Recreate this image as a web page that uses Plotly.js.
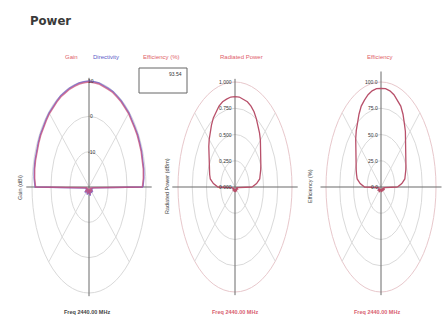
<!DOCTYPE html>
<html>
<head>
<meta charset="utf-8">
<script src="https://cdn.plot.ly/plotly-3.0.1.min.js"></script>
<style>
  html, body { margin: 0; padding: 0; background: #ffffff; }
  #chart { width: 445px; height: 325px; }
</style>
</head>
<body>
<div id="chart"></div>
<script>
// Pattern cut angles (degrees), 5 degree steps
const angles = [0,5,10,15,20,25,30,35,40,45,50,55,60,65,70,75,80,85,90,95,100,105,110,115,120,125,130,135,140,145,150,155,160,165,170,175,180,
  185,190,195,200,205,210,215,220,225,230,235,240,245,250,255,260,265,270,275,280,285,290,295,300,305,310,315,320,325,330,335,340,345,350,355];

// Gain (dBi)
const gainDb = [8.1,8.7,9.0,9.1,9.2,9.2,9.3,9.2,9.3,9.4,9.3,9.4,9.4,9.5,9.4,9.5,9.6,9.6,9.7,9.6,9.6,9.5,9.5,9.4,9.5,9.4,9.3,9.4,9.3,9.2,9.3,9.2,9.1,9.1,9.0,8.7,8.1,
  -17.8,-18.6,-19.1,-18.4,-19.3,-18.9,-17.6,-18.8,-19.4,-18.2,-19.0,-18.7,-17.9,-19.2,-18.5,-18.9,-19.5,-18.3,-19.1,-18.6,-17.7,-19.0,-18.4,-19.3,-18.8,-18.1,-19.2,-18.6,-17.9,-18.9,-19.4,-18.3,-18.8,-18.5,-17.6];

// Directivity (dBi)
const directivityDb = [8.4,9.0,9.3,9.4,9.5,9.5,9.6,9.5,9.6,9.7,9.6,9.7,9.7,9.8,9.7,9.8,9.9,9.9,10.0,9.9,9.9,9.8,9.8,9.7,9.8,9.7,9.6,9.7,9.6,9.5,9.6,9.5,9.4,9.4,9.3,9.0,8.4,
  -17.5,-18.3,-18.8,-18.1,-19.0,-18.6,-17.3,-18.5,-19.1,-17.9,-18.7,-18.4,-17.6,-18.9,-18.2,-18.6,-19.2,-18.0,-18.8,-18.3,-17.4,-18.7,-18.1,-19.0,-18.5,-17.8,-18.9,-18.3,-17.6,-18.6,-19.1,-18.0,-18.5,-18.2,-17.3];

// Radiated power (mW)
const radiatedPower = [0.30,0.38,0.44,0.46,0.48,0.50,0.52,0.56,0.59,0.63,0.67,0.71,0.75,0.79,0.82,0.84,0.85,0.86,0.86,0.86,0.85,0.84,0.82,0.79,0.76,0.72,0.68,0.64,0.60,0.56,0.53,0.50,0.48,0.46,0.44,0.38,0.30,
  0.06,0.04,0.03,0.05,0.04,0.03,0.02,0.04,0.05,0.03,0.04,0.02,0.03,0.05,0.04,0.03,0.02,0.03,0.04,0.05,0.03,0.02,0.04,0.03,0.05,0.04,0.02,0.03,0.04,0.03,0.05,0.04,0.03,0.04,0.06];

// Radiation efficiency (%)
const efficiencyPct = [30,38,44,46,48,50,52,55,59,64,69,74,80,85,88,91,93,94,94,94,93,91,88,85,80,75,70,65,60,56,52,50,48,46,44,38,30,
  6,4,3,5,4,7,3,4,5,3,6,4,3,5,4,3,2,3,4,5,3,2,4,3,5,4,2,3,6,3,5,7,4,5,6];

// Total efficiency readout
const totalEfficiency = "93.54";

// Radial scales for each panel
const gainTicks = [-20, -10, 0, 10];
const gainTickLabels = ["", "-10", "0", "10"];
const powerTicks = [0, 0.25, 0.5, 0.75, 1.0];
const powerTickLabels = ["0.000", "0.250", "0.500", "0.750", "1.000"];
const effTicks = [0, 25, 50, 75, 100];
const effTickLabels = ["0.0", "25.0", "50.0", "75.0", "100.0"];

const W = 445, H = 325;
const px = v => v / W;
const py = v => 1 - v / H;

// Panel geometry: centre and ring radii in pixels (rings are stretched vertically)
const panels = [
  {cx: 89,  cy: 187, rx: 57, ry: 106},
  {cx: 235, cy: 187, rx: 57, ry: 105},
  {cx: 381, cy: 187, rx: 55, ry: 105}
];
const padX = 64, padY = 120;

const layout = {
  width: W, height: H,
  margin: {l: 0, r: 0, t: 0, b: 0},
  paper_bgcolor: '#ffffff',
  plot_bgcolor: 'rgba(0,0,0,0)',
  showlegend: false,
  shapes: [],
  annotations: [],
  font: {family: 'Liberation Sans, Arial, sans-serif', size: 6, color: '#444'}
};

panels.forEach((p, i) => {
  const sfx = i === 0 ? '' : String(i + 1);
  const x0 = Math.max(0, p.cx - padX), x1 = Math.min(W, p.cx + padX);
  layout['xaxis' + sfx] = {
    domain: [px(x0), px(x1)],
    range: [(x0 - p.cx) / p.rx, (x1 - p.cx) / p.rx],
    visible: false, fixedrange: true
  };
  layout['yaxis' + sfx] = {
    domain: [py(p.cy + padY), py(p.cy - padY)],
    range: [-padY / p.ry, padY / p.ry],
    visible: false, fixedrange: true
  };
});

function refs(i) {
  const sfx = i === 0 ? '' : String(i + 1);
  return {xref: 'x' + sfx, yref: 'y' + sfx};
}

// Polar grid: elliptical rings, diagonal spokes and the two main axes
function addGrid(i, nRings, ringColor, vExtent) {
  const r = refs(i);
  for (let k = 1; k <= nRings; k++) {
    const f = k / nRings;
    layout.shapes.push({type: 'circle', xref: r.xref, yref: r.yref,
      x0: -f, x1: f, y0: -f, y1: f,
      line: {color: k === nRings ? ringColor : '#dadada', width: 1}, layer: 'below'});
  }
  [45, 135, 225, 315].forEach(a => {
    const t = a * Math.PI / 180;
    layout.shapes.push({type: 'line', xref: r.xref, yref: r.yref,
      x0: 0, y0: 0, x1: Math.cos(t), y1: Math.sin(t),
      line: {color: '#dcdcdc', width: 1}, layer: 'below'});
  });
  layout.shapes.push({type: 'line', xref: r.xref, yref: r.yref,
    x0: -1.1, x1: 1.1, y0: 0, y1: 0, line: {color: '#6a6a6a', width: 1.2}, layer: 'below'});
  layout.shapes.push({type: 'line', xref: r.xref, yref: r.yref,
    x0: 0, x1: 0, y0: -1.03, y1: vExtent, line: {color: '#6a6a6a', width: 1}, layer: 'below'});
}

function addRadialLabels(i, ticks, labels, lo, hi, anchor, dx) {
  const r = refs(i);
  ticks.forEach((t, k) => {
    if (!labels[k]) return;
    layout.annotations.push({xref: r.xref, yref: r.yref, x: 0, y: (t - lo) / (hi - lo),
      text: labels[k], showarrow: false, xanchor: anchor, yanchor: 'middle', xshift: dx,
      font: {size: 5, color: '#333'}});
  });
}

// Convert a pattern cut to plot coordinates on the stretched polar grid
function patternXY(vals, lo, hi) {
  const x = [], y = [];
  vals.forEach((v, k) => {
    const rn = Math.max(0, (v - lo) / (hi - lo));
    const t = angles[k] * Math.PI / 180;
    x.push(rn * Math.cos(t));
    y.push(rn * Math.sin(t));
  });
  x.push(x[0]); y.push(y[0]);
  return {x, y};
}

addGrid(0, 3, '#d9d9d9', 1.03);
addGrid(1, 4, '#e8c8cc', 1.03);
addGrid(2, 4, '#e8c8cc', 1.1);

addRadialLabels(0, gainTicks, gainTickLabels, -20, 10, 'center', 2);
addRadialLabels(1, powerTicks, powerTickLabels, 0, 1, 'right', -1);
addRadialLabels(2, effTicks, effTickLabels, 0, 100, 'right', -1);

const traces = [];
const d = patternXY(directivityDb, -20, 10);
traces.push({type: 'scatter', mode: 'lines', x: d.x, y: d.y, xaxis: 'x', yaxis: 'y',
  line: {color: 'rgba(110,90,200,0.8)', width: 1.4}, name: 'Directivity', hoverinfo: 'skip'});
const g = patternXY(gainDb, -20, 10);
traces.push({type: 'scatter', mode: 'lines', x: g.x, y: g.y, xaxis: 'x', yaxis: 'y',
  line: {color: 'rgba(200,80,120,0.75)', width: 1.4}, name: 'Gain', hoverinfo: 'skip'});
const rp = patternXY(radiatedPower, 0, 1);
traces.push({type: 'scatter', mode: 'lines', x: rp.x, y: rp.y, xaxis: 'x2', yaxis: 'y2',
  line: {color: '#b8506a', width: 1.3}, name: 'Radiated Power', hoverinfo: 'skip'});
const ef = patternXY(efficiencyPct, 0, 100);
traces.push({type: 'scatter', mode: 'lines', x: ef.x, y: ef.y, xaxis: 'x3', yaxis: 'y3',
  line: {color: '#b8506a', width: 1.3}, name: 'Efficiency', hoverinfo: 'skip'});

// Page title
layout.annotations.push({xref: 'paper', yref: 'paper', x: px(28), y: py(20), xanchor: 'left', yanchor: 'middle',
  text: '<b>Power</b>', showarrow: false,
  font: {family: 'DejaVu Sans Condensed, Liberation Sans Narrow, Liberation Sans, sans-serif', size: 13, color: '#3a3a3a'}});

// Panel headers
const hdr = (x, text, color, anchor) => layout.annotations.push({xref: 'paper', yref: 'paper',
  x: px(x), y: py(57), xanchor: anchor || 'center', yanchor: 'middle', text, showarrow: false,
  font: {size: 6, color}});
hdr(71, 'Gain', '#e0606a');
hdr(106, 'Directivity', '#5a5ac8');
hdr(161, 'Efficiency (%)', '#e0606a');
hdr(242, 'Radiated Power', '#e0606a');
hdr(380, 'Efficiency', '#e0606a');

// Efficiency readout box
layout.shapes.push({type: 'rect', xref: 'paper', yref: 'paper',
  x0: px(139), x1: px(187), y0: py(93), y1: py(68), line: {color: '#666', width: 1}, fillcolor: 'rgba(0,0,0,0)'});
layout.annotations.push({xref: 'paper', yref: 'paper', x: px(184), y: py(74), xanchor: 'right', yanchor: 'middle',
  text: totalEfficiency, showarrow: false, font: {size: 5, color: '#333'}});

// Axis captions
const ycap = (x, y, text) => layout.annotations.push({xref: 'paper', yref: 'paper',
  x: px(x), y: py(y), text, textangle: -90, showarrow: false, xanchor: 'center', yanchor: 'middle',
  font: {size: 5.5, color: '#444'}});
ycap(20, 188, 'Gain (dBi)');
ycap(167, 186, 'Radiated Power (dBm)');
ycap(310, 186, 'Efficiency (%)');

const xcap = (x, text, color) => layout.annotations.push({xref: 'paper', yref: 'paper',
  x: px(x), y: py(312), text: '<b>' + text + '</b>', showarrow: false, xanchor: 'center', yanchor: 'middle',
  font: {size: 5.5, color}});
xcap(87, 'Freq 2440.00 MHz', '#444');
xcap(235, 'Freq 2440.00 MHz', '#d86070');
xcap(377, 'Freq 2440.00 MHz', '#d86070');

Plotly.newPlot('chart', traces, layout, {staticPlot: true, displayModeBar: false});
</script>
</body>
</html>
